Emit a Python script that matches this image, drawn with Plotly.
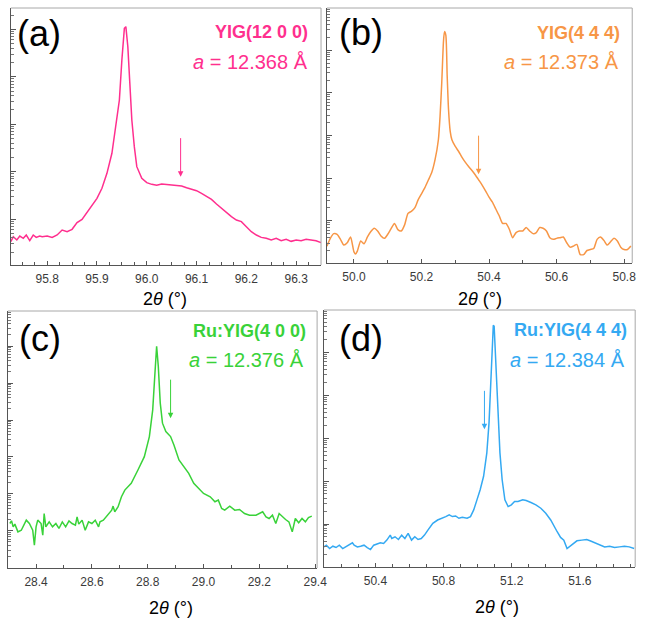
import numpy as np
import plotly.graph_objects as go

W, H = 657, 619

# ---------------- data ----------------
# (a) YIG(12 0 0)
xa = [95.727, 95.732, 95.739, 95.745, 95.752, 95.758, 95.765, 95.772, 95.778, 95.785,
      95.79, 95.80, 95.81, 95.82, 95.83, 95.84, 95.85, 95.86, 95.87, 95.88, 95.89, 95.90,
      95.91, 95.92, 95.93, 95.94, 95.945, 95.95, 95.955, 95.958, 95.962, 95.966, 95.97,
      95.975, 95.98, 95.99, 96.00, 96.01, 96.02, 96.03, 96.04, 96.05, 96.06, 96.07, 96.08,
      96.09, 96.10, 96.11, 96.12, 96.13, 96.14, 96.15, 96.16, 96.17, 96.18, 96.19, 96.20,
      96.21, 96.22, 96.23, 96.24, 96.25, 96.26, 96.27, 96.28, 96.29, 96.30, 96.31, 96.32,
      96.33, 96.34, 96.35]
ya = [3.33, 4.24, 3.61, 4.38, 3.91, 4.60, 3.49, 4.60, 4.10, 4.38,
      4.24, 4.38, 4.10, 4.60, 5.86, 5.40, 6.06, 8.37, 9.84, 13.6, 18.8, 27.3,
      44.4, 91.9, 243, 1225, 3236, 22540, 105000, 113800, 43050, 7260, 1225,
      335, 127, 72.1, 58.4, 53.8, 51.3, 54.7, 53.8, 52.1, 50.5, 49.7, 45.8,
      42.3, 39.6, 34.8, 30.5, 26.0, 20.7, 16.8, 13.6, 11.2, 9.52, 8.79, 6.89,
      5.40, 4.60, 4.10, 3.91, 3.61, 3.91, 3.49, 3.72, 3.38, 3.61, 3.49, 3.72,
      3.61, 3.49, 3.17]

# (b) YIG(4 4 4)
xb = [49.92, 49.93, 49.94, 49.95, 49.96, 49.97, 49.98, 49.99, 50.00, 50.005, 50.01, 50.02,
      50.03, 50.04, 50.05, 50.06, 50.07, 50.08, 50.09, 50.10, 50.11, 50.12, 50.13, 50.14,
      50.15, 50.16, 50.17, 50.18, 50.19, 50.20, 50.21, 50.22, 50.23, 50.24, 50.25, 50.255,
      50.26, 50.265, 50.268, 50.272, 50.276, 50.28, 50.285, 50.29, 50.30, 50.31, 50.32,
      50.33, 50.34, 50.35, 50.36, 50.37, 50.38, 50.39, 50.40, 50.41, 50.42, 50.43, 50.44,
      50.45, 50.46, 50.47, 50.48, 50.49, 50.50, 50.51, 50.52, 50.53, 50.54, 50.55, 50.56,
      50.57, 50.58, 50.59, 50.60, 50.61, 50.62, 50.63, 50.64, 50.65, 50.66, 50.67, 50.68,
      50.69, 50.70, 50.71, 50.72, 50.73, 50.74, 50.75, 50.76, 50.77, 50.78, 50.79, 50.80,
      50.81, 50.82]
yb = [2.55, 3.87, 5.00, 4.82, 3.67, 2.69, 3.05, 4.17, 1.87, 1.67, 1.94, 3.35,
      2.89, 4.17, 5.58, 6.69, 5.78, 4.40, 3.87, 4.82, 6.57, 8.65, 6.22, 5.78,
      8.03, 14.9, 16.7, 20.0, 31.0, 43.0, 59.7, 89.2, 133, 267, 796, 2853,
      17700, 157800, 272900, 227000, 25470, 4111, 1256, 796, 553, 421, 308,
      234, 185, 149, 117, 89.2, 67.9, 49.8, 35.8, 27.3, 18.9, 13.1, 8.65,
      8.65, 6.34, 4.02, 5.28, 5.78, 5.78, 6.94, 5.78, 5.00, 5.28, 6.94, 6.69,
      5.78, 4.02, 3.67, 3.87, 4.02, 4.17, 3.05, 2.41, 2.55, 2.79, 1.61, 1.61,
      2.01, 2.12, 2.24, 3.67, 4.17, 3.47, 2.69, 3.23, 3.87, 3.35, 2.41, 2.12,
      2.12, 2.55]

# (c) Ru:YIG(4 0 0)
xc = [28.306, 28.312, 28.318, 28.324, 28.335, 28.347, 28.365, 28.376, 28.388, 28.394,
      28.400, 28.406, 28.418, 28.424, 28.429, 28.435, 28.447, 28.459, 28.471, 28.482,
      28.494, 28.506, 28.518, 28.529, 28.541, 28.547, 28.553, 28.565, 28.576, 28.588,
      28.600, 28.612, 28.624, 28.629, 28.641, 28.659, 28.671, 28.676, 28.682, 28.694,
      28.706, 28.718, 28.741, 28.765, 28.788, 28.806, 28.818, 28.826, 28.832, 28.838,
      28.845, 28.853, 28.865, 28.882, 28.894, 28.912, 28.929, 28.947, 28.965, 28.982,
      29.000, 29.024, 29.041, 29.053, 29.065, 29.076, 29.094, 29.112, 29.129, 29.147,
      29.165, 29.188, 29.212, 29.224, 29.235, 29.247, 29.259, 29.271, 29.282, 29.294,
      29.306, 29.318, 29.329, 29.341, 29.353, 29.365, 29.376, 29.388]
yc = [15.8, 18.7, 12.8, 15.2, 9.39, 10.4, 19.5, 15.8, 10.4, 4.08,
      12.8, 19.5, 15.8, 7.63, 29.5, 12.8, 17.5, 12.8, 15.8, 11.6,
      17.5, 12.8, 18.7, 15.8, 14.3, 24.0, 15.2, 19.5, 10.4, 17.5,
      15.8, 19.5, 12.8, 17.5, 19.5, 29.5, 36.4, 46.8, 32.8, 44.9,
      83.8, 127, 193, 444, 1021, 3565, 18880, 186700, 989000, 283300,
      28640, 8204, 4875, 3565, 2118, 829, 547, 360, 193, 141,
      103, 83.8, 61.3, 68.0, 40.4, 36.4, 46.8, 36.4, 37.9, 29.5,
      26.6, 26.6, 32.8, 24.0, 21.6, 26.6, 15.8, 29.5, 24.0, 20.3,
      17.5, 9.39, 21.6, 16.5, 21.6, 17.5, 23.0, 25.0]

# (d) Ru:YIG(4 4 4)
xd = [50.098, 50.112, 50.131, 50.150, 50.169, 50.188, 50.208, 50.227, 50.246, 50.265,
      50.275, 50.294, 50.313, 50.333, 50.352, 50.371, 50.390, 50.410, 50.429, 50.448,
      50.467, 50.487, 50.496, 50.515, 50.535, 50.554, 50.573, 50.592, 50.612, 50.631,
      50.650, 50.669, 50.688, 50.708, 50.737, 50.765, 50.794, 50.813, 50.833, 50.852,
      50.871, 50.890, 50.910, 50.938, 50.958, 50.977, 50.996, 51.015, 51.035, 51.054,
      51.067, 51.079, 51.087, 51.092, 51.097, 51.106, 51.117, 51.131, 51.144, 51.160,
      51.179, 51.198, 51.217, 51.237, 51.265, 51.285, 51.313, 51.342, 51.371, 51.400,
      51.429, 51.448, 51.467, 51.487, 51.506, 51.525, 51.544, 51.563, 51.583, 51.612,
      51.640, 51.660, 51.688, 51.717, 51.746, 51.775, 51.804, 51.833, 51.862, 51.890,
      51.919]
yd = [2.94, 3.22, 2.69, 3.05, 2.84, 3.22, 2.69, 2.94, 3.22, 3.65,
      3.22, 2.94, 3.05, 3.22, 2.84, 2.55, 3.22, 3.40, 3.65, 3.52,
      4.22, 5.52, 4.61, 5.05, 4.37, 5.52, 4.61, 6.04, 4.22, 5.05,
      4.37, 4.61, 5.52, 7.23, 10.4, 12.4, 13.6, 14.9, 16.3, 14.9,
      15.4, 13.6, 14.3, 13.6, 14.9, 21.3, 36.5, 62.7, 129, 453,
      2286, 19800, 119700, 421700, 400000, 69800, 4699, 453, 107, 36.5,
      25.5, 27.9, 33.4, 33.4, 36.5, 35.2, 31.6, 27.9, 23.3, 17.8,
      12.4, 8.66, 6.61, 4.87, 4.22, 2.69, 3.05, 3.52, 4.07, 4.22,
      4.37, 4.07, 3.65, 3.22, 2.94, 3.05, 2.84, 2.94, 3.05, 2.94,
      2.69]

panel_tags = ["(a)", "(b)", "(c)", "(d)"]
peak_names = ["YIG(12 0 0)", "YIG(4 4 4)", "Ru:YIG(4 0 0)", "Ru:YIG(4 4 4)"]
lattice = ["12.368", "12.373", "12.376", "12.384"]
arrow_x = [96.068, 50.369, 28.882, 51.040]
arrow_tip_y = [78.2, 124, 11220, 1596]

# ---------------- style / layout ----------------
colors = ["#FF2F8E", "#F79646", "#39D239", "#34A9F2"]
xs = [xa, xb, xc, xd]
ys = [ya, yb, yc, yd]
line_shapes = ["linear", "spline", "linear", "linear"]

# pixel boxes (left, right, top, bottom)
boxes = [(11, 326, 8, 265), (332, 642, 8, 263), (8, 322, 311, 568), (329, 645, 310, 567)]
xranges = [[95.727, 96.35], [49.92, 50.824], [28.299, 29.407], [50.098, 51.925]]
yranges = [[0.03, 5.45], [0.01, 5.99], [-0.005, 6.95], [0.0, 5.98]]
xticks = [(95.8, 0.1, 0.025), (50.0, 0.2, 0.1), (28.4, 0.2, 0.1), (50.4, 0.4, 0.1)]
tag_pos = [(15, 33), (342, 32), (17, 338), (342, 338)]
name_pos = [(315, 32), (632, 33), (313, 331), (639, 330)]
latt_pos = [(315, 62), (631, 62), (311, 360), (637, 360)]
title_pos = [(168, 299), (487, 299), (174, 608), (505, 607)]

FONT = "Liberation Sans, Arial, sans-serif"

def px(xp):
    return xp / W

def py(yp):
    return 1 - yp / H

fig = go.Figure()
layout = dict(
    width=W, height=H, margin=dict(l=0, r=0, t=0, b=0),
    paper_bgcolor="white", plot_bgcolor="white", showlegend=False,
    font=dict(family=FONT, color="#333333"),
)
annotations = []
shapes = []
for i in range(4):
    n = "" if i == 0 else str(i + 1)
    l, r, t, b = boxes[i]
    t0, dt, mdt = xticks[i]
    layout["xaxis" + n] = dict(
        domain=[px(l), px(r)], range=xranges[i], anchor="y" + n,
        showgrid=False, zeroline=False, showline=True, linecolor="#555555", linewidth=1,
        ticks="inside", ticklen=4, tickcolor="#555555", tick0=t0, dtick=dt,
        tickformat=".1f", ticklabelstandoff=3,
        tickfont=dict(size=12, color="#3a3a3a", family=FONT),
        minor=dict(ticks="inside", ticklen=3, tickcolor="#555555", dtick=mdt, tick0=t0, showgrid=False),
    )
    layout["yaxis" + n] = dict(
        domain=[py(b), py(t)], range=yranges[i], type="log", anchor="x" + n,
        showgrid=False, zeroline=False, showline=True, linecolor="#555555", linewidth=1,
        ticks="inside", ticklen=5, tickcolor="#555555", dtick=1, showticklabels=False,
        minor=dict(ticks="inside", ticklen=3, tickcolor="#777777", dtick="D1", showgrid=False),
    )
    fig.add_trace(go.Scatter(x=xs[i], y=ys[i], mode="lines",
                             line=dict(color=colors[i], width=1.5, shape=line_shapes[i],
                                       smoothing=0.6),
                             xaxis="x" + n, yaxis="y" + n, hoverinfo="skip"))
    # top/right frame
    shapes.append(dict(type="path", xref="paper", yref="paper",
                       path=f"M {px(l)} {py(t)} L {px(r)} {py(t)} L {px(r)} {py(b)}",
                       line=dict(color="#a8a8a8", width=1)))
    # panel tag
    annotations.append(dict(text=panel_tags[i], xref="paper", yref="paper",
                            x=px(tag_pos[i][0]), y=py(tag_pos[i][1]), xanchor="left", yanchor="middle",
                            showarrow=False, font=dict(size=36, color="black", family=FONT)))
    annotations.append(dict(text="<b>" + peak_names[i] + "</b>", xref="paper", yref="paper",
                            x=px(name_pos[i][0]), y=py(name_pos[i][1]), xanchor="right", yanchor="middle",
                            showarrow=False, font=dict(size=18, color=colors[i], family=FONT)))
    annotations.append(dict(text="<i>a</i> = " + lattice[i] + " Å", xref="paper", yref="paper",
                            x=px(latt_pos[i][0]), y=py(latt_pos[i][1]), xanchor="right", yanchor="middle",
                            showarrow=False, font=dict(size=20, color=colors[i], family=FONT)))
    # shoulder arrow
    annotations.append(dict(text="", xref="x" + n, yref="y" + n,
                            x=arrow_x[i], y=np.log10(arrow_tip_y[i]),
                            ax=0, ay=-40, showarrow=True, arrowhead=2, arrowsize=1.1,
                            arrowwidth=1, arrowcolor=colors[i], standoff=0))

# x axis titles
for (tx, ty) in title_pos:
    annotations.append(dict(text="2<i>θ</i> (°)", xref="paper", yref="paper",
                            x=px(tx), y=py(ty), xanchor="center", yanchor="middle",
                            showarrow=False, font=dict(size=18, color="black", family=FONT)))

layout["annotations"] = annotations
layout["shapes"] = shapes
fig.update_layout(**layout)
fig.write_html("out.html", config={"displayModeBar": False})
